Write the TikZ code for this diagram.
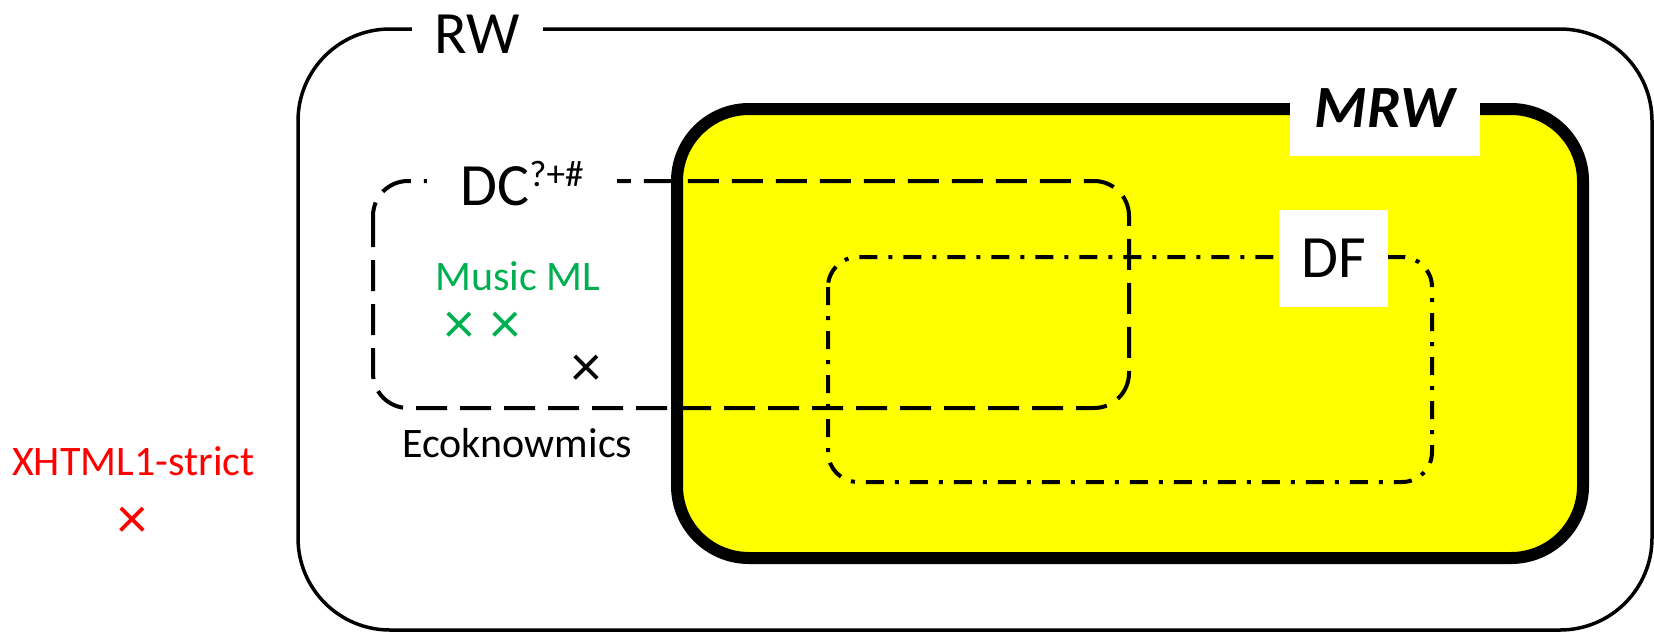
\documentclass[tikz,border=0pt]{standalone}
\usepackage{fontspec}
\setmainfont{Carlito}
\definecolor{mlgreen}{HTML}{00B050}
\definecolor{mrwyellow}{HTML}{FFFF00}
\definecolor{xred}{HTML}{FF0000}
\tikzset{
  setlabel/.style={font=\fontsize{60}{72}\selectfont, fill=white, inner sep=0pt, align=center},
  itemtext/.style={font=\fontsize{42}{50}\selectfont, inner sep=0pt, anchor=base west},
  xsign/.style={font=\fontsize{60}{72}\selectfont, inner sep=0pt},
  rwbox/.style={draw=black, line width=3.5pt, rounded corners=92pt},
  mrwbox/.style={draw=black, fill=mrwyellow, line width=12pt, rounded corners=72pt},
  dcbox/.style={draw=black, line width=4pt, rounded corners=35pt, dash pattern=on 31pt off 13pt},
  dfbox/.style={draw=black, line width=4pt, rounded corners=30pt, dash pattern=on 18pt off 11pt on 4pt off 11pt},
}
\begin{document}
\begin{tikzpicture}[x=1pt, y=-1pt]
\useasboundingbox (0,0) rectangle (1654,633);

% outer set RW
\draw[rwbox] (298,29) rectangle (1652,630);
\node[setlabel, minimum width=131pt] (rw) at (477.5,34) {RW};

% set MRW
\draw[mrwbox] (677,109) rectangle (1583,558);

% set DC (dashed)
\draw[dcbox] (373,181) rectangle (1129,408);

% set DF (dash-dot)
\draw[dfbox] (828,257) rectangle (1432,482);

% labels of the inner sets
\node[setlabel, minimum width=190pt] (dc) at (522,183.5)
  {DC\raisebox{19pt}{\fontsize{37}{40}\selectfont ?+\#}};
\node[setlabel, minimum width=109pt, minimum height=97pt] (df) at (1333.5,258.5) {DF};
\node[setlabel, minimum width=190pt, minimum height=96pt,
      font=\fontsize{60}{72}\selectfont\bfseries\itshape] (mrw) at (1385,108) {MRW};

% members
\node[itemtext, text=mlgreen] (music) at (435,290) {Music ML};
\node[xsign, text=mlgreen] (m1) at (459.5,327.5) {×};
\node[xsign, text=mlgreen] (m2) at (505,327.5) {×};
\node[xsign] (eco) at (586.5,370.5) {×};
\node[itemtext] (ecolabel) at (402,457) {Ecoknowmics};
\node[itemtext, text=xred] (xhtml) at (12,475) {XHTML1-strict};
\node[xsign, text=xred] (xh) at (132.5,523) {×};
\end{tikzpicture}
\end{document}
